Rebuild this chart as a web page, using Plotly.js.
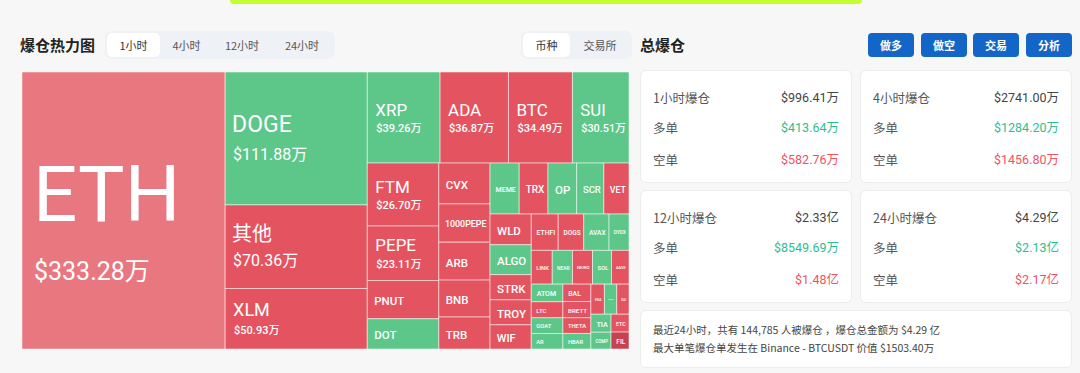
<!DOCTYPE html>
<html><head><meta charset="utf-8">
<script src="https://cdn.plot.ly/plotly-3.0.1.min.js"></script>
<style>
body{margin:0;background:#f7f7f7;width:1080px;height:373px;overflow:hidden;font-family:Roboto,"Noto Sans CJK SC",sans-serif;position:relative}
.a{position:absolute}
.topbar{left:230px;top:0;width:632px;height:4px;background:#c2ff2e;border-radius:0 0 5px 5px}
.h{font-weight:700;font-size:15px;color:#222;font-family:"Noto Sans CJK SC",sans-serif;line-height:20px}
.tabs{background:#eef1f5;border-radius:7px;height:28px;display:flex;align-items:center;padding:0 2px;box-sizing:border-box}
.tab{font-size:11px;color:#555;height:24px;line-height:24px;text-align:center;font-family:"Noto Sans CJK SC",sans-serif}
.tab.on{background:#fff;border-radius:5px;color:#333}
.btn{background:#1366c8;color:#fff;font-weight:700;font-size:11px;border-radius:4px;height:24px;line-height:24px;text-align:center;width:46px;font-family:"Noto Sans CJK SC",sans-serif}
.card{background:#fff;border:1px solid #ececec;border-radius:6px;box-sizing:border-box}
.row{position:absolute;left:12px;right:12px;height:18px;line-height:18px;display:flex;justify-content:space-between;font-size:12.5px;color:#555}
.row span:first-child{font-family:"Noto Sans CJK SC",sans-serif}
.tot{color:#444}.lg{color:#2ebd8e}.sh{color:#f6505f}
.note{font-size:10.5px;color:#444;line-height:18px;font-family:"Noto Sans CJK SC",sans-serif;white-space:nowrap}
</style></head>
<body>
<div class="a topbar"></div>
<div class="a h" style="left:20px;top:35px">爆仓热力图</div>
<div class="a tabs" style="left:105px;top:31px;width:230px" id="tabs1"></div>
<div class="a tabs" style="left:521px;top:31px;width:111px" id="tabs2"></div>
<div class="a h" style="left:640px;top:35px">总爆仓</div>
<div class="a" id="tm" style="left:22px;top:72px;width:607px;height:277px"></div>
<script>
// ---- data ----
const coins = ['ETH','DOGE','其他','XLM','XRP','ADA','BTC','SUI','FTM','PEPE','PNUT','DOT','CVX','1000PEPE','ARB','BNB','TRB','MEME','TRX','OP','SCR','VET','WLD','ALGO','STRK','TROY','WIF','ETHFI','DOGS','AVAX','DYDX','LINK','NEAR','NEIRO','SOL','AAVE','ATOM','LTC','GOAT','AR','BAL','BRETT','THETA','HBAR','ENA','GALA','XAI','TIA','COMP','ETC','FIL'];
const amounts = [333.28,111.88,70.36,50.93,39.26,36.87,34.49,30.51,26.70,23.11,16.2,12.8,12.4,11.6,11.5,11.2,9.7,8.8,8.7,8.65,8.2,7.6,7.5,7.3,6.15,6.1,5.9,5.8,5.5,5.45,4.3,4.2,4.05,4.0,3.8,3.5,3.3,3.0,2.95,2.9,2.88,2.7,2.6,2.58,2.4,2.2,2.18,2.15,2.0,1.9,1.8];
const sides = ['S','L','S','S','L','S','S','L','S','S','S','L','S','S','S','S','S','L','S','L','L','S','S','L','S','S','S','S','S','L','L','S','L','S','L','S','L','S','L','L','S','S','S','L','S','L','S','L','L','S','S'];
const tabs1 = ['1小时','4小时','12小时','24小时'];
const tabs2 = ['币种','交易所'];
const buttons = ['做多','做空','交易','分析'];
const cardTitles = ['1小时爆仓','4小时爆仓','12小时爆仓','24小时爆仓'];
const cardTotals = ['$996.41万','$2741.00万','$2.33亿','$4.29亿'];
const cardLongs = ['$413.64万','$1284.20万','$8549.69万','$2.13亿'];
const cardShorts = ['$582.76万','$1456.80万','$1.48亿','$2.17亿'];
const noteLines = ['最近24小时，共有 144,785 人被爆仓 ，爆仓总金额为 $4.29 亿','最大单笔爆仓单发生在 Binance - BTCUSDT 价值 $1503.40万'];

// ---- UI chrome ----
const t1 = document.getElementById('tabs1');
const w1 = [53,53,58,62];
tabs1.forEach((t,i)=>{const d=document.createElement('div');d.className='tab'+(i===0?' on':'');d.style.width=w1[i]+'px';d.textContent=t;t1.appendChild(d);});
const t2 = document.getElementById('tabs2');
const w2 = [47,60];
tabs2.forEach((t,i)=>{const d=document.createElement('div');d.className='tab'+(i===0?' on':'');d.style.width=w2[i]+'px';d.textContent=t;t2.appendChild(d);});
const bx = [868,921,973,1026];
buttons.forEach((b,i)=>{const d=document.createElement('div');d.className='a btn';d.style.left=bx[i]+'px';d.style.top='33px';d.textContent=b;document.body.appendChild(d);});
const cpos = [[640,70],[860,70],[640,190],[860,190]];
cardTitles.forEach((t,i)=>{
  const c=document.createElement('div');c.className='a card';
  c.style.left=cpos[i][0]+'px';c.style.top=cpos[i][1]+'px';c.style.width='212px';c.style.height='113px';
  const rows=[[t,cardTotals[i],'tot'],['多单',cardLongs[i],'lg'],['空单',cardShorts[i],'sh']];
  const ys=[18,48,80];
  rows.forEach((r,j)=>{const d=document.createElement('div');d.className='row';d.style.top=ys[j]+'px';
    d.innerHTML='<span>'+r[0]+'</span><span class="'+r[2]+'">'+r[1]+'</span>';c.appendChild(d);});
  document.body.appendChild(c);
});
const n=document.createElement('div');n.className='a card';n.style.left='640px';n.style.top='310px';n.style.width='432px';n.style.height='58px';
n.innerHTML='<div class="a note" style="left:12px;top:10px">'+noteLines[0]+'</div><div class="a note" style="left:12px;top:28px">'+noteLines[1]+'</div>';
document.body.appendChild(n);

// ---- treemap ----
function fmt(v){return '$'+v.toFixed(2)+'万';}
// [line size, label size, value size, left pad px, value weight, pad font size]
function sizes(v){
  if(v>300) return [46,78,25,8,400,96];
  if(v>100) return [21.5,23,16,4,400,0];
  if(v>60) return [19,20,16,4,400,0];
  if(v>45) return [14,18,11,5,500,0];
  if(v>20) return [13,17,11,5,500,0];
  return [11.5,11.5,0,4,500,0];
}
function pad(px,fs){
  if(fs) return '<span style="font-size:'+fs+'px;letter-spacing:'+(px-0.248*fs).toFixed(1)+'px">\u00a0</span>';
  return '<span style="font-size:'+(px*4)+'px">\u00a0</span>';
}
const texts = coins.map((c,i)=>{
  const s=sizes(amounts[i]);
  if(!s[2]) return pad(s[3])+'<span style="font-weight:500">'+c+'</span>';
  return pad(s[3],s[5])+'<span style="font-size:'+s[1]+'px">'+c+'</span><br>'+pad(s[3]+1)+'<span style="font-size:'+s[2]+'px;font-weight:'+s[4]+'">'+fmt(amounts[i])+'</span>';
});
const colors = sides.map((s,i)=>{
  if(i===0) return '#e97780';
  if(i===coins.length-1) return '#c84151';
  return s==='L'?'#5dc78a':'#e45460';
});
const ids = ['root'].concat(coins);
const labelsAll = [''].concat(coins);
const parentsAll = [''].concat(coins.map(()=>'root'));
const valuesAll = [0].concat(amounts);
const textAll = [''].concat(texts);
const colorAll = ['rgba(0,0,0,0)'].concat(colors);
const sizeAll = [11].concat(amounts.map(v=>sizes(v)[0]));
try{
Plotly.newPlot('tm',[{
  type:'treemap',
  ids:ids,
  labels:labelsAll,
  parents:parentsAll,
  values:valuesAll,
  branchvalues:'remainder',
  text:textAll,
  texttemplate:'%{text}',
  textposition:'middle left',
  textfont:{color:'#ffffff',size:sizeAll,family:'Roboto, "Noto Sans CJK SC", sans-serif'},
  marker:{colors:colorAll,line:{color:'rgba(255,255,255,0.5)',width:1},pad:{t:0,l:0,r:0,b:0}},
  tiling:{packing:'squarify',squarifyratio:1.618,pad:0},
  pathbar:{visible:false},
  sort:true,
  hoverinfo:'none'
}],{
  width:607,height:277,margin:{l:0,r:0,t:0,b:0},
  paper_bgcolor:'rgba(0,0,0,0)',
  showlegend:false
},{displayModeBar:false,staticPlot:true});
}catch(e){document.body.insertAdjacentHTML('beforeend','<div class="a" style="left:30px;top:100px;color:red">'+e.message+'</div>');}
</script>
</body></html>
